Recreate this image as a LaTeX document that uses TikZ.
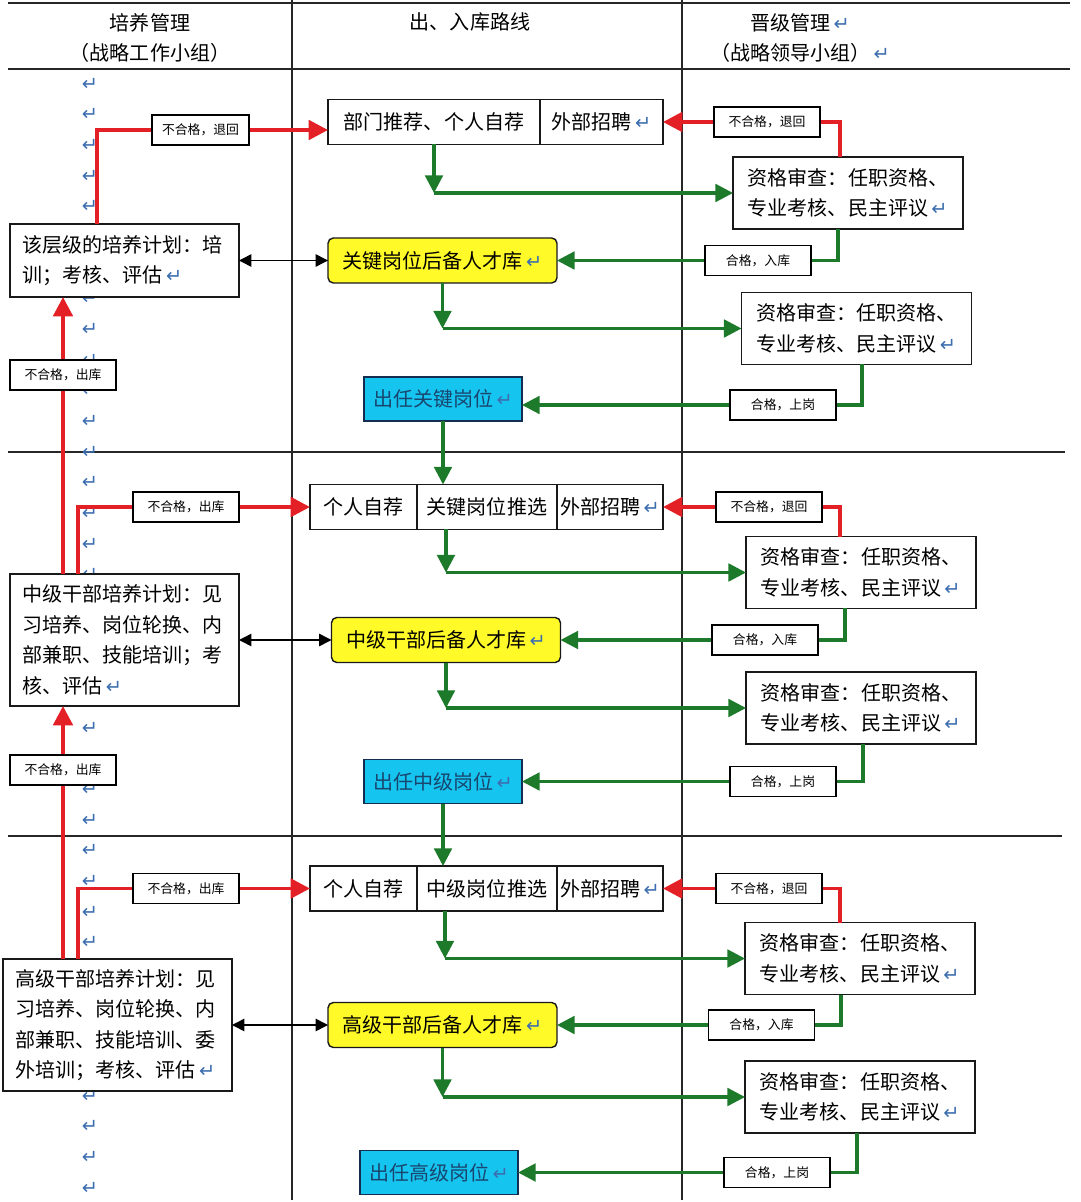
\documentclass[tikz,border=0pt]{standalone}
\usepackage{fontspec}
\newfontfamily\cjk{Noto Sans CJK SC}
\newfontfamily\retfont{DejaVu Sans}
\usetikzlibrary{arrows.meta, positioning, calc}

\definecolor{flowred}{RGB}{226,32,38}
\definecolor{flowgreen}{RGB}{28,122,42}
\definecolor{poolyellow}{RGB}{255,250,40}
\definecolor{postblue}{RGB}{22,196,240}
\definecolor{postline}{RGB}{20,45,80}
\definecolor{posttext}{RGB}{25,70,110}
\definecolor{retblue}{RGB}{60,110,175}

\newcommand{\retmark}{{\retfont\fontsize{11pt}{11pt}\selectfont\textcolor{retblue}{↵}}}

\begin{document}
\begin{tikzpicture}[
    x=0.02cm, y=-0.02cm,
    font=\cjk\fontsize{11.4pt}{17.4pt}\selectfont,
    grid line/.style={draw=black!85, line width=1pt},
    head/.style={align=center, font=\cjk\fontsize{11.4pt}{17.6pt}\selectfont},
    ret/.style={inner sep=0pt},
    box/.style={
        draw=black!90,
        fill=white,
        line width=0.8pt,
        inner sep=0pt,
        outer sep=0pt,
        align=left
    },
    plan/.style={box, text width=4.08cm, inner xsep=0.25cm},
    source/.style={box, align=center, minimum height=0.9cm},
    check/.style={box, minimum width=4.6cm, minimum height=1.44cm},
    pool/.style={box, fill=poolyellow, rounded corners=3pt, minimum width=4.58cm, minimum height=0.9cm},
    post/.style={box, fill=postblue, draw=postline, text=posttext, minimum width=3.16cm, minimum height=0.88cm},
    tag/.style={
        draw=black,
        fill=white,
        line width=0.8pt,
        inner sep=0pt,
        minimum width=2.12cm,
        minimum height=0.6cm,
        font=\cjk\fontsize{7.3pt}{8pt}\selectfont
    },
    fail arrow/.style={draw=flowred, line width=2.2pt, -{Triangle[length=11pt, width=11pt]}},
    pass arrow/.style={draw=flowgreen, line width=1.8pt, -{Triangle[length=10pt, width=10pt]}},
    link arrow/.style={draw=black, line width=0.8pt, {Triangle[length=7pt, width=7pt]}-{Triangle[length=7pt, width=7pt]}}
]
    \useasboundingbox (0,0) rectangle (1080,1202);

    % table lines
    \draw[grid line] (8,3) -- (1070,3);
    \draw[grid line] (8,69) -- (1070,69);
    \draw[grid line] (8,452) -- (1065,452);
    \draw[grid line] (8,836) -- (1062,836);
    \draw[grid line] (292,0) -- (292,1200);
    \draw[grid line] (682,0) -- (682,1200);

    % column heads
    \node[head] (colplan) at (150,38) {培养管理\\（战略工作小组）};
    \node[head] (colroute) at (470,22) {出、入库路线};
    \node[head] (colpromo) at (800,38) {晋级管理\,\retmark\\（战略领导小组）\,\retmark};

    % paragraph marks down the left column (the ones under boxes left out)
    \foreach \k in {0,...,4,7,8,...,16,21,23,24,...,28,33,34,35,36}
        \node[ret] (ret\k) at (90,{84+30.67*\k}) {\retmark};

    % --- key posts ---
    \node[source, minimum width=4.24cm] (src1a) at (434,122) {部门推荐、个人自荐};
    \node[source, minimum width=2.46cm, right=0pt of src1a] (src1b) {外部招聘\,\retmark};
    \node[plan, minimum height=1.46cm] (plan1) at (124.5,260.5) {该层级的培养计划：培\\训；考核、评估\,\retmark};
    \node[check] (check1) at (848,193) {资格审查：任职资格、\\专业考核、民主评议\,\retmark};
    \node[pool] (pool1) at (442.5,260.5) {关键岗位后备人才库\,\retmark};
    \node[check] (check2) at (856.5,328.5) {资格审查：任职资格、\\专业考核、民主评议\,\retmark};
    \node[post] (post1) at (443,399) {出任关键岗位\,\retmark};

    % --- middle posts ---
    \node[source, minimum width=2.14cm] (src2a) at (363.5,507) {个人自荐};
    \node[source, minimum width=2.8cm, right=0pt of src2a] (src2b) {关键岗位推选};
    \node[source, minimum width=2.12cm, right=0pt of src2b] (src2c) {外部招聘\,\retmark};
    \node[plan, minimum height=2.64cm] (plan2) at (124.5,640) {中级干部培养计划：见\\习培养、岗位轮换、内\\部兼职、技能培训；考\\核、评估\,\retmark};
    \node[check] (check3) at (861,572.5) {资格审查：任职资格、\\专业考核、民主评议\,\retmark};
    \node[pool] (pool2) at (446,640) {中级干部后备人才库\,\retmark};
    \node[check] (check4) at (861,708) {资格审查：任职资格、\\专业考核、民主评议\,\retmark};
    \node[post] (post2) at (443,781.5) {出任中级岗位\,\retmark};

    % --- senior posts ---
    \node[source, minimum width=2.14cm] (src3a) at (363.5,888.5) {个人自荐};
    \node[source, minimum width=2.8cm, right=0pt of src3a] (src3b) {中级岗位推选};
    \node[source, minimum width=2.12cm, right=0pt of src3b] (src3c) {外部招聘\,\retmark};
    \node[plan, minimum height=2.64cm] (plan3) at (117.5,1025) {高级干部培养计划：见\\习培养、岗位轮换、内\\部兼职、技能培训、委\\外培训；考核、评估\,\retmark};
    \node[check] (check5) at (860,958.5) {资格审查：任职资格、\\专业考核、民主评议\,\retmark};
    \node[pool] (pool3) at (442.5,1025) {高级干部后备人才库\,\retmark};
    \node[check] (check6) at (860,1097) {资格审查：任职资格、\\专业考核、民主评议\,\retmark};
    \node[post] (post3) at (439,1172.5) {出任高级岗位\,\retmark};

    % connectors, key posts
    \draw[fail arrow] ($(plan1.north)+(-27.5,0)$) |- ($(src1a.west)+(0,8)$);
    \draw[fail arrow] ($(check1.north)+(-8,0)$) |- (src1b.east);
    \coordinate (bend1) at (src1a.south |- check1.west);
    \draw[pass arrow] (src1a.south) -- (bend1);
    \draw[pass arrow] (bend1) -- (check1.west);
    \draw[pass arrow] ($(check1.south)+(-10,0)$) |- (pool1.east);
    \draw[link arrow] (plan1.east) -- (pool1.west);
    \coordinate (bend2) at (pool1.south |- check2.west);
    \draw[pass arrow] (pool1.south) -- (bend2);
    \draw[pass arrow] (bend2) -- (check2.west);
    \draw[pass arrow] ($(check2.south)+(5.5,0)$) |- ($(post1.east)+(0,6)$);
    \draw[pass arrow] (post1.south) -- (post1.south |- src2b.north);

    % connectors, middle posts
    \draw[fail arrow] ($(plan2.north)+(-61.5,0)$) -- ($(plan1.south)+(-61.5,0)$);
    \draw[fail arrow] ($(plan2.north)+(-46.5,0)$) |- (src2a.west);
    \draw[fail arrow] ($(check3.north)+(-21,0)$) |- (src2c.east);
    \coordinate (drop3) at ($(src2b.south)+(-41,0)$);
    \coordinate (bend3) at (drop3 |- check3.west);
    \draw[pass arrow] (drop3) -- (bend3);
    \draw[pass arrow] (bend3) -- (check3.west);
    \draw[pass arrow] ($(check3.south)+(-16,0)$) |- (pool2.east);
    \draw[link arrow] (plan2.east) -- (pool2.west);
    \coordinate (bend4) at (pool2.south |- check4.west);
    \draw[pass arrow] (pool2.south) -- (bend4);
    \draw[pass arrow] (bend4) -- (check4.west);
    \draw[pass arrow] ($(check4.south)+(2,0)$) |- (post2.east);
    \draw[pass arrow] (post2.south) -- (post2.south |- src3b.north);

    % connectors, senior posts
    \draw[fail arrow] ($(plan3.north)+(-54.5,0)$) -- ($(plan2.south)+(-61.5,0)$);
    \draw[fail arrow] ($(plan3.north)+(-39.5,0)$) |- (src3a.west);
    \draw[fail arrow] ($(check5.north)+(-20,0)$) |- (src3c.east);
    \coordinate (drop5) at ($(src3b.south)+(-42,0)$);
    \coordinate (bend5) at (drop5 |- check5.west);
    \draw[pass arrow] (drop5) -- (bend5);
    \draw[pass arrow] (bend5) -- (check5.west);
    \draw[pass arrow] ($(check5.south)+(-19,0)$) |- (pool3.east);
    \draw[link arrow] (plan3.east) -- (pool3.west);
    \coordinate (bend6) at (pool3.south |- check6.west);
    \draw[pass arrow] (pool3.south) -- (bend6);
    \draw[pass arrow] (bend6) -- (check6.west);
    \draw[pass arrow] ($(check6.south)+(-3,0)$) |- (post3.east);

    % labels on the lines
    \node[tag, minimum width=1.94cm] (tagback1) at (200.5,130) {不合格，退回};
    \node[tag] (tagret1) at (767,122) {不合格，退回};
    \node[tag] (tagin1) at (758,260.5) {合格，入库};
    \node[tag] (tagon1) at (783,405) {合格，上岗};
    \node[tag] (tagout1) at (63,375) {不合格，出库};

    \node[tag] (tagback2) at (186,507) {不合格，出库};
    \node[tag] (tagret2) at (769,507) {不合格，退回};
    \node[tag] (tagin2) at (765,640) {合格，入库};
    \node[tag] (tagon2) at (783,781.5) {合格，上岗};
    \node[tag] (tagout2) at (63,770) {不合格，出库};

    \node[tag] (tagback3) at (186,888.5) {不合格，出库};
    \node[tag] (tagret3) at (769,888.5) {不合格，退回};
    \node[tag] (tagin3) at (761.5,1025) {合格，入库};
    \node[tag] (tagon3) at (777,1172.5) {合格，上岗};

\end{tikzpicture}
\end{document}
